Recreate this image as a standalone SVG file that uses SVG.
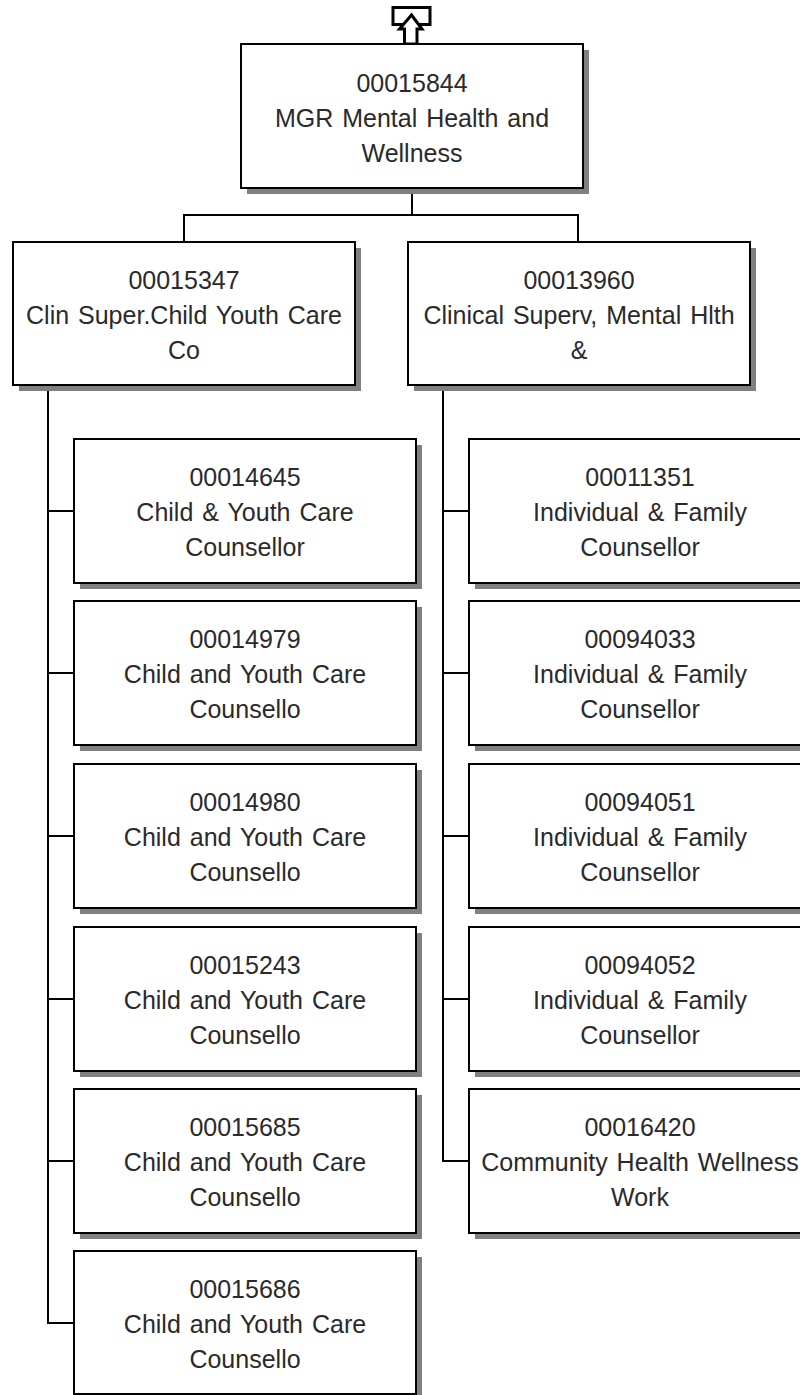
<svg xmlns="http://www.w3.org/2000/svg" width="800" height="1395" viewBox="0 0 800 1395">
<style>
.sh{fill:#808080;}
.bx{fill:#ffffff;stroke:#000000;stroke-width:2;}
.t{font-family:"Liberation Sans",Arial,sans-serif;font-size:25px;fill:#2a2a2a;text-anchor:middle;word-spacing:2px;}
.c{fill:none;stroke:#000000;stroke-width:2;}
</style>
<rect x="0" y="0" width="800" height="1395" fill="#ffffff"/>
<g id="connectors">
<polyline class="c" points="412,188 412,215"/>
<polyline class="c" points="184,242 184,215 578,215 578,242"/>
<polyline class="c" points="48,385 48,1323 74,1323"/>
<line class="c" x1="48" y1="511" x2="74" y2="511"/>
<line class="c" x1="48" y1="673" x2="74" y2="673"/>
<line class="c" x1="48" y1="836" x2="74" y2="836"/>
<line class="c" x1="48" y1="999" x2="74" y2="999"/>
<line class="c" x1="48" y1="1161" x2="74" y2="1161"/>
<polyline class="c" points="443,385 443,1161 469,1161"/>
<line class="c" x1="443" y1="511" x2="469" y2="511"/>
<line class="c" x1="443" y1="673" x2="469" y2="673"/>
<line class="c" x1="443" y1="836" x2="469" y2="836"/>
<line class="c" x1="443" y1="999" x2="469" y2="999"/>
</g>
<g id="up-icon">
<rect x="393" y="7.5" width="37" height="17" fill="#ffffff" stroke="#000000" stroke-width="3"/>
<polygon points="411.5,15 399.5,29 404.5,29 404.5,44 417,44 417,29 422,29" fill="#ffffff" stroke="#000000" stroke-width="3" stroke-linejoin="miter"/>
</g>
<g id="n00015844">
<rect class="sh" x="247" y="50" width="342" height="144"/>
<rect class="bx" x="241" y="44" width="342" height="144"/>
<text class="t" x="412" y="92">00015844</text>
<text class="t" x="412" y="127">MGR Mental Health and</text>
<text class="t" x="412" y="162">Wellness</text>
</g>
<g id="n00015347">
<rect class="sh" x="19" y="248" width="342" height="143"/>
<rect class="bx" x="13" y="242" width="342" height="143"/>
<text class="t" x="184" y="289">00015347</text>
<text class="t" x="184" y="324">Clin Super.Child Youth Care</text>
<text class="t" x="184" y="359">Co</text>
</g>
<g id="n00013960">
<rect class="sh" x="414" y="248" width="342" height="143"/>
<rect class="bx" x="408" y="242" width="342" height="143"/>
<text class="t" x="579" y="289">00013960</text>
<text class="t" x="579" y="324">Clinical Superv, Mental Hlth</text>
<text class="t" x="579" y="359">&amp;</text>
</g>
<g id="n00014645">
<rect class="sh" x="80" y="445" width="342" height="144"/>
<rect class="bx" x="74" y="439" width="342" height="144"/>
<text class="t" x="245" y="486">00014645</text>
<text class="t" x="245" y="521">Child &amp; Youth Care</text>
<text class="t" x="245" y="556">Counsellor</text>
</g>
<g id="n00014979">
<rect class="sh" x="80" y="607" width="342" height="144"/>
<rect class="bx" x="74" y="601" width="342" height="144"/>
<text class="t" x="245" y="648">00014979</text>
<text class="t" x="245" y="683">Child and Youth Care</text>
<text class="t" x="245" y="718">Counsello</text>
</g>
<g id="n00014980">
<rect class="sh" x="80" y="770" width="342" height="144"/>
<rect class="bx" x="74" y="764" width="342" height="144"/>
<text class="t" x="245" y="811">00014980</text>
<text class="t" x="245" y="846">Child and Youth Care</text>
<text class="t" x="245" y="881">Counsello</text>
</g>
<g id="n00015243">
<rect class="sh" x="80" y="933" width="342" height="144"/>
<rect class="bx" x="74" y="927" width="342" height="144"/>
<text class="t" x="245" y="974">00015243</text>
<text class="t" x="245" y="1009">Child and Youth Care</text>
<text class="t" x="245" y="1044">Counsello</text>
</g>
<g id="n00015685">
<rect class="sh" x="80" y="1095" width="342" height="144"/>
<rect class="bx" x="74" y="1089" width="342" height="144"/>
<text class="t" x="245" y="1136">00015685</text>
<text class="t" x="245" y="1171">Child and Youth Care</text>
<text class="t" x="245" y="1206">Counsello</text>
</g>
<g id="n00015686">
<rect class="sh" x="80" y="1257" width="342" height="144"/>
<rect class="bx" x="74" y="1251" width="342" height="143"/>
<text class="t" x="245" y="1298">00015686</text>
<text class="t" x="245" y="1333">Child and Youth Care</text>
<text class="t" x="245" y="1368">Counsello</text>
</g>
<g id="n00011351">
<rect class="sh" x="475" y="445" width="342" height="144"/>
<rect class="bx" x="469" y="439" width="342" height="144"/>
<text class="t" x="640" y="486">00011351</text>
<text class="t" x="640" y="521">Individual &amp; Family</text>
<text class="t" x="640" y="556">Counsellor</text>
</g>
<g id="n00094033">
<rect class="sh" x="475" y="607" width="342" height="144"/>
<rect class="bx" x="469" y="601" width="342" height="144"/>
<text class="t" x="640" y="648">00094033</text>
<text class="t" x="640" y="683">Individual &amp; Family</text>
<text class="t" x="640" y="718">Counsellor</text>
</g>
<g id="n00094051">
<rect class="sh" x="475" y="770" width="342" height="144"/>
<rect class="bx" x="469" y="764" width="342" height="144"/>
<text class="t" x="640" y="811">00094051</text>
<text class="t" x="640" y="846">Individual &amp; Family</text>
<text class="t" x="640" y="881">Counsellor</text>
</g>
<g id="n00094052">
<rect class="sh" x="475" y="933" width="342" height="144"/>
<rect class="bx" x="469" y="927" width="342" height="144"/>
<text class="t" x="640" y="974">00094052</text>
<text class="t" x="640" y="1009">Individual &amp; Family</text>
<text class="t" x="640" y="1044">Counsellor</text>
</g>
<g id="n00016420">
<rect class="sh" x="475" y="1095" width="342" height="144"/>
<rect class="bx" x="469" y="1089" width="342" height="144"/>
<text class="t" x="640" y="1136">00016420</text>
<text class="t" x="640" y="1171">Community Health Wellness</text>
<text class="t" x="640" y="1206">Work</text>
</g>
</svg>
